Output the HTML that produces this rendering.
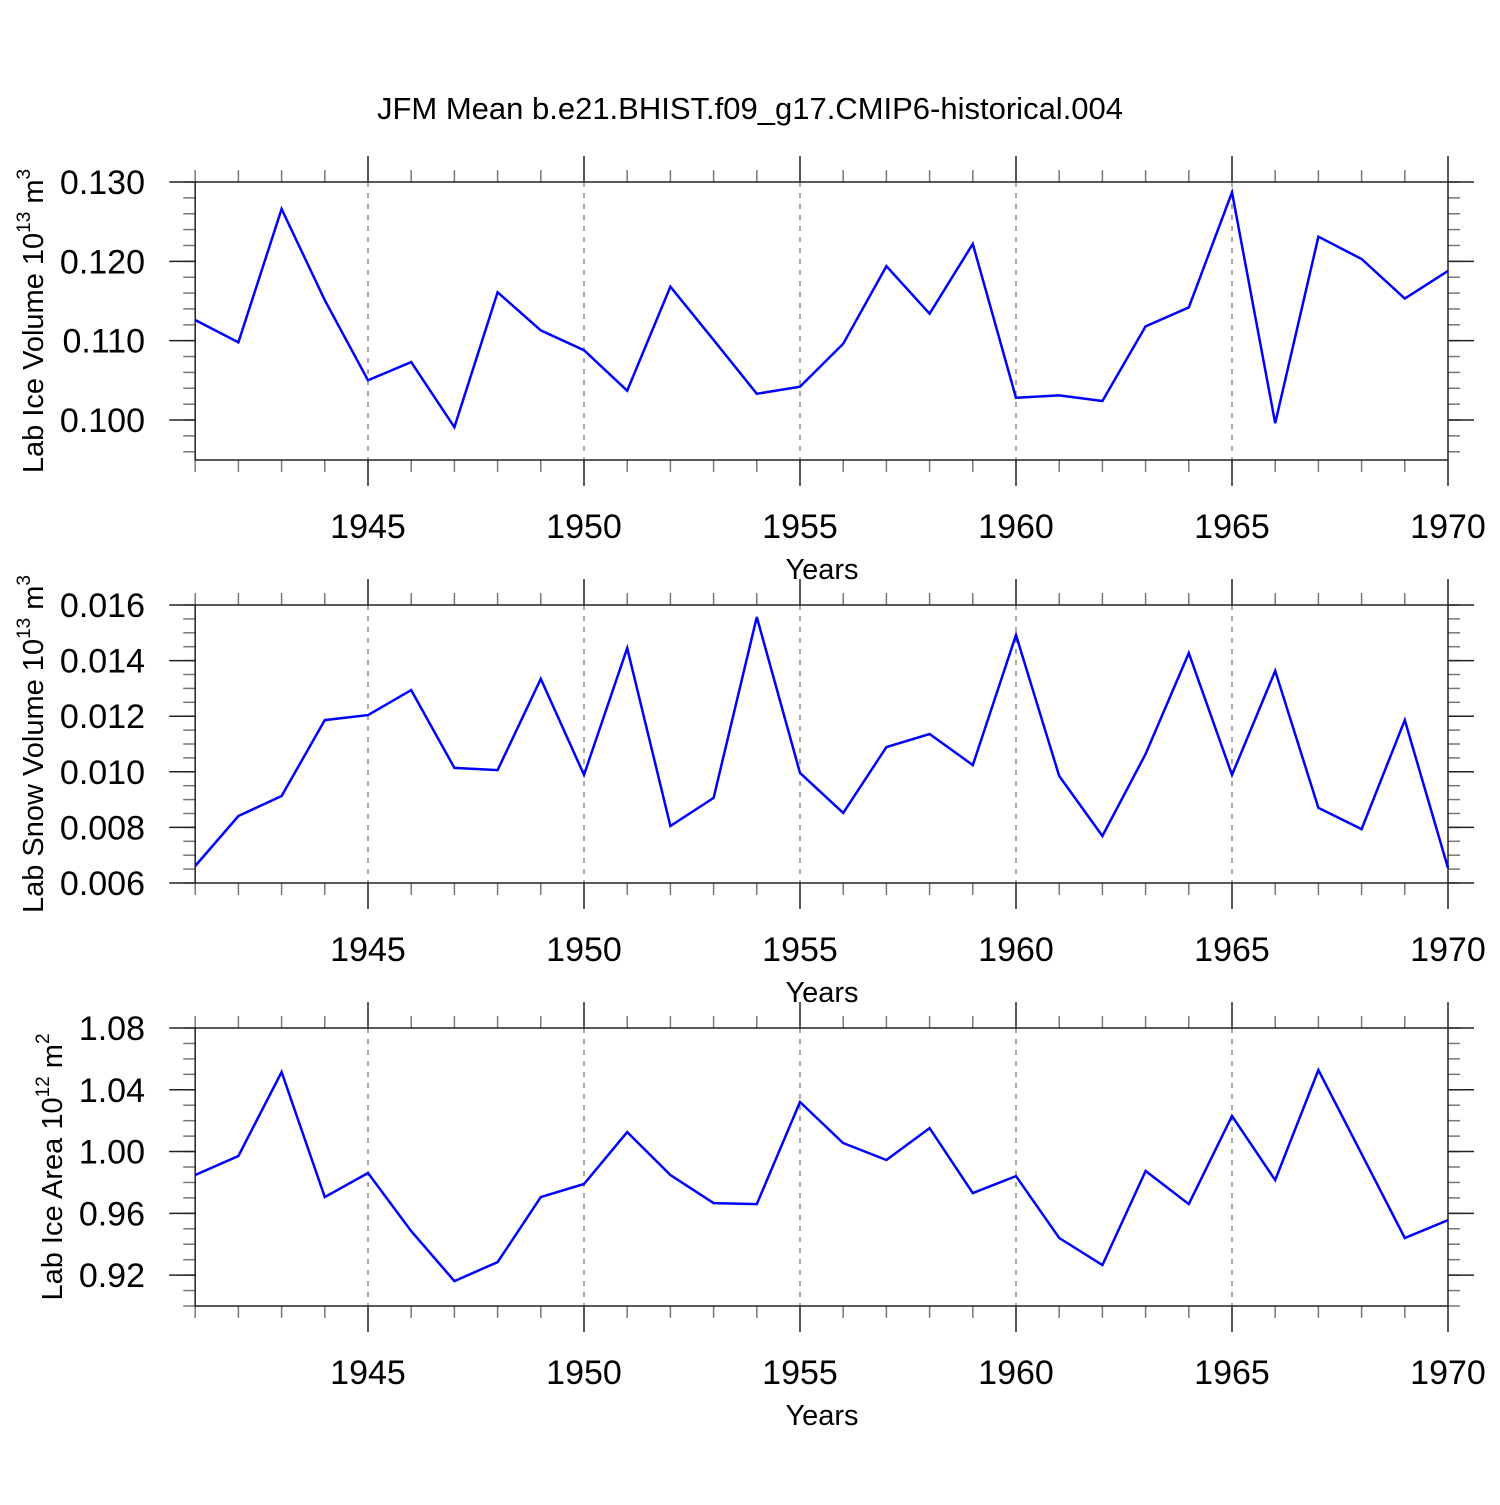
<!DOCTYPE html>
<html><head><meta charset="utf-8"><style>
body{margin:0;background:#fff}
svg text{font-family:"Liberation Sans",sans-serif;fill:#000}
</style></head><body>
<svg id="chart" width="1500" height="1500" xmlns="http://www.w3.org/2000/svg">
<rect width="1500" height="1500" fill="#fff"/>
<text x="750" y="119" font-size="31" text-anchor="middle">JFM Mean b.e21.BHIST.f09_g17.CMIP6-historical.004</text>
</svg>
<script>
const years = [1941,1942,1943,1944,1945,1946,1947,1948,1949,1950,1951,1952,1953,1954,1955,1956,1957,1958,1959,1960,1961,1962,1963,1964,1965,1966,1967,1968,1969,1970];
const iceVolume = [0.1126,0.1098,0.1266,0.1151,0.1050,0.1073,0.0991,0.1161,0.1113,0.1088,0.1037,0.1168,0.1101,0.1033,0.1042,0.1096,0.1194,0.1134,0.1222,0.1028,0.1031,0.1024,0.1118,0.1142,0.1287,0.0996,0.1231,0.1203,0.1153,0.1188];
const snowVolume = [0.00661,0.00841,0.00913,0.01186,0.01204,0.01294,0.01014,0.01006,0.01334,0.00989,0.01445,0.00805,0.00906,0.01557,0.00996,0.00852,0.01089,0.01136,0.01024,0.01492,0.00985,0.00769,0.01064,0.01427,0.00989,0.01363,0.00870,0.00794,0.01186,0.00654];
const iceArea = [0.9848,0.9971,1.0515,0.9705,0.9861,0.9485,0.9161,0.9284,0.9705,0.9790,1.0126,0.9848,0.9666,0.9660,1.0321,1.0055,0.9945,1.0152,0.9731,0.9841,0.9440,0.9265,0.9874,0.9660,1.0230,0.9815,1.0528,0.9985,0.9440,0.9556];
const xTickLabels = ['1945','1950','1955','1960','1965','1970'];
const iceVolTicks = ['0.100','0.110','0.120','0.130'];
const snowTicks = ['0.006','0.008','0.010','0.012','0.014','0.016'];
const areaTicks = ['0.92','0.96','1.00','1.04','1.08'];

const svg=document.getElementById('chart');
const NS='http://www.w3.org/2000/svg';
const X0=195.2,X1=1448,YR0=1941,YR1=1970;
const xs=y=>X0+(y-YR0)/(YR1-YR0)*(X1-X0);
function mk(tag,attrs,parent){const e=document.createElementNS(NS,tag);for(const k in attrs)e.setAttribute(k,attrs[k]);(parent||svg).appendChild(e);return e;}
function line(g,x1,y1,x2,y2,st,w,dash){return mk('line',{x1,y1,x2,y2,stroke:st,'stroke-width':w||1.5,'stroke-dasharray':dash||'none'},g);}

function panel(name,top,vmin,vmax,data,ticks,minorStep,titleHTML,titleX){
  const bot=top+278;
  const ys=v=>bot-(v-vmin)/(vmax-vmin)*(bot-top);
  const g=mk('g',{});
  
  
  xTickLabels.forEach(t=>{const x=xs(+t);if(x<X1-1){const l=line(g,x,top,x,bot,'#555',1,'5,6');}});
  for(let v=Math.ceil(vmin/minorStep-1e-6)*minorStep;v<=vmax+1e-9;v+=minorStep){const y=ys(v);line(g,X0-12,y,X0,y,'#777',1.5);line(g,X1,y,X1+12,y,'#777',1.5);}
  ticks.forEach(t=>{const y=ys(+t);line(g,X0-26,y,X0,y,'#222',1.5);line(g,X1,y,X1+26,y,'#222',1.5);
    const tx=mk('text',{x:145,y:y+12,'font-size':34,'text-anchor':'end'},g);tx.textContent=t;
    });
  years.forEach(yr=>{const x=xs(yr);const maj=yr%5===0;const L=maj?26:12;const c=maj?'#222':'#777';line(g,x,top-L,x,top,c,1.5);line(g,x,bot,x,bot+L,c,1.5);});
  xTickLabels.forEach(t=>{const tx=mk('text',{x:xs(+t),y:bot+78,'font-size':34,'text-anchor':'middle'},g);tx.textContent=t;
    });
  const xt=mk('text',{x:822,y:bot+119,'font-size':29,'text-anchor':'middle'},g);xt.textContent='Years';
  
  const fr=mk('rect',{x:X0,y:top,width:X1-X0,height:bot-top,fill:'none',stroke:'#222','stroke-width':1.5},g);
  
  const pts=data.map((v,i)=>xs(years[i]).toFixed(1)+','+ys(v).toFixed(1)).join(' ');
  const pl=mk('polyline',{points:pts,fill:'none',stroke:'#0000ff','stroke-width':2.5,'stroke-linejoin':'miter'},g);
  
  const cy=(top+bot)/2;
  const yt=mk('text',{x:titleX,y:cy,'font-size':29,'text-anchor':'middle',transform:'rotate(-90 '+titleX+' '+cy+')'},g);
  yt.innerHTML=titleHTML;
  
}
panel('ice-volume',182,0.09496,0.130,iceVolume,iceVolTicks,0.002,'Lab Ice Volume 10<tspan font-size="19" dy="-13">13</tspan><tspan dy="13"> m</tspan><tspan font-size="19" dy="-13">3</tspan>',43);
panel('snow-volume',605,0.006,0.016,snowVolume,snowTicks,0.0005,'Lab Snow Volume 10<tspan font-size="19" dy="-13">13</tspan><tspan dy="13"> m</tspan><tspan font-size="19" dy="-13">3</tspan>',43);
panel('ice-area',1028,0.90,1.08,iceArea,areaTicks,0.01,'Lab Ice Area 10<tspan font-size="19" dy="-13">12</tspan><tspan dy="13"> m</tspan><tspan font-size="19" dy="-13">2</tspan>',62);
</script>
</body></html>
